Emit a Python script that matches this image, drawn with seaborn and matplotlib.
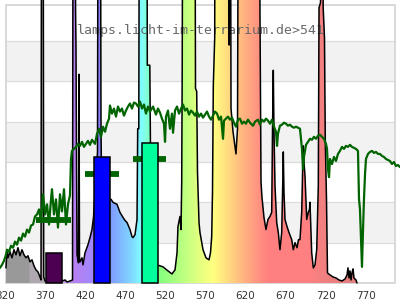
import numpy as np
import matplotlib
matplotlib.use("Agg")
import matplotlib.pyplot as plt
import seaborn as sns
from matplotlib.colors import LinearSegmentedColormap
from matplotlib.patches import Polygon, Rectangle

# ---------------- data ----------------
lamp_nm = [320.6, 321.9, 323.1, 324.4, 325.6, 328.1, 330.6, 333.1, 335.6, 338.1,
           340.6, 343.1, 345.6, 348.1, 350.6, 353.1, 355.6, 358.1, 360.6, 363.1,
           364.4, 365.0, 367.1, 367.8, 369.4, 375.6, 381.9, 388.1, 390.6, 394.4,
           396.9, 400.6, 403.75, 404.4, 406.9, 407.6, 408.1, 408.75, 409.4, 411.25,
           411.9, 412.5, 413.1, 415.6, 416.9, 419.4, 423.1, 425.6, 428.1, 430.0,
           435.0, 435.6, 438.75, 439.4, 440.0, 444.4, 450.6, 451.9, 454.4, 456.9,
           459.4, 463.1, 466.9, 469.4, 471.9, 475.6, 478.1, 479.4, 481.9, 484.4,
           485.25, 486.6, 487.25, 496.9, 497.25, 500.4, 501.25, 503.1, 509.4, 513.1,
           516.9, 523.1, 528.1, 531.9, 534.4, 535.6, 538.1, 539.4, 540.25, 540.9,
           541.5, 556.9, 557.5, 559.0, 560.0, 561.9, 563.1, 566.9, 570.6, 574.4,
           576.25, 577.75, 578.75, 579.75, 581.5, 581.9, 599.1, 599.6, 600.1, 601.25,
           601.9, 604.4, 608.1, 610.0, 611.0, 637.5, 638.1, 639.4, 640.6, 643.1,
           645.6, 648.1, 650.6, 652.75, 653.75, 654.75, 655.6, 656.9, 659.0, 661.0,
           663.1, 665.25, 666.6, 667.25, 668.1, 669.4, 671.9, 674.4, 677.75, 679.75,
           681.9, 684.4, 686.25, 688.1, 690.25, 691.6, 692.25, 693.1, 694.4, 696.5,
           698.5, 700.0, 700.6, 701.9, 702.75, 704.75, 706.9, 709.0, 711.0, 711.9,
           713.75, 714.6, 716.25, 717.1, 718.75, 719.75, 721.25, 722.5, 725.6, 729.4,
           733.1, 736.9, 740.6, 744.4, 746.9, 748.1, 749.4, 750.6, 751.9, 753.1,
           754.4, 755.6, 758.1, 759.4]
lamp_int = [15, 33, 25, 28, 31, 25, 33, 28, 35, 27,
            33, 28, 25, 27, 21, 23, 17, 13, 11, 6,
            3, 400, 400, 6, 2, 2, 1, 2, 2, 3,
            1, 2, 3, 400, 400, 271, 237, 130, 28, 20,
            207, 23, 21, 25, 18, 30, 38, 45, 53, 65,
            130, 400, 400, 150, 110, 85, 83, 83, 80, 79,
            78, 70, 65, 62, 60, 53, 46, 45, 48, 63,
            153, 153, 400, 400, 216, 216, 130, 50, 18, 17,
            16, 12, 9, 13, 30, 56, 66, 53, 100, 216,
            400, 400, 193, 190, 110, 60, 50, 33, 25, 23,
            30, 46, 90, 195, 243, 400, 400, 236, 400, 400,
            173, 150, 128, 153, 400, 400, 268, 100, 85, 65,
            53, 63, 66, 70, 150, 211, 150, 96, 60, 50,
            33, 50, 100, 130, 90, 63, 56, 50, 43, 33,
            40, 35, 43, 43, 70, 120, 136, 120, 106, 63,
            70, 73, 80, 50, 30, 15, 18, 33, 96, 273,
            278, 400, 400, 273, 243, 140, 83, 10, 8, 6,
            5, 3, 2, 4, 8, 15, 5, 12, 3, 10,
            14, 5, 3, 0]

sun_nm = [313.1, 315.6, 318.1, 320.6, 321.9, 324.4, 326.9, 329.4, 331.9, 334.4,
          336.9, 339.4, 341.9, 344.4, 346.9, 349.4, 351.9, 354.4, 356.9, 359.4,
          361.9, 364.4, 366.9, 369.4, 371.9, 374.4, 376.9, 378.1, 380.6, 383.1,
          385.6, 388.1, 390.6, 393.1, 395.6, 398.1, 400.6, 401.9, 403.1, 405.6,
          408.1, 410.6, 413.1, 415.6, 418.1, 420.6, 423.1, 425.6, 428.1, 431.9,
          434.4, 436.9, 439.4, 441.9, 444.4, 446.9, 449.4, 450.6, 453.1, 455.6,
          458.1, 460.6, 463.1, 465.6, 468.1, 470.6, 473.1, 475.6, 478.1, 480.6,
          483.1, 485.6, 488.1, 490.6, 493.1, 495.6, 498.1, 500.6, 504.4, 508.1,
          510.6, 513.1, 515.6, 518.1, 519.4, 520.6, 523.1, 525.6, 528.1, 529.4,
          531.9, 534.4, 536.9, 539.4, 541.9, 544.4, 546.9, 549.4, 551.9, 554.4,
          556.9, 559.4, 561.9, 564.4, 566.9, 569.4, 571.9, 574.4, 576.9, 579.4,
          581.9, 584.4, 586.9, 589.4, 591.9, 593.1, 595.6, 598.1, 600.6, 603.1,
          605.6, 608.1, 610.6, 613.1, 615.6, 618.1, 620.6, 623.1, 625.6, 629.4,
          631.9, 635.6, 638.1, 640.6, 643.1, 645.6, 648.1, 650.6, 653.1, 655.6,
          658.1, 659.4, 660.6, 663.1, 665.6, 668.1, 670.6, 673.1, 675.6, 678.1,
          680.6, 683.1, 685.6, 688.1, 689.4, 690.6, 691.9, 693.1, 695.6, 698.1,
          700.6, 703.1, 705.6, 708.1, 710.6, 713.1, 715.6, 718.1, 720.6, 721.9,
          723.1, 724.4, 725.6, 728.1, 730.6, 733.1, 735.6, 738.1, 740.6, 743.1,
          745.6, 748.1, 750.6, 753.1, 755.6, 758.1, 760.6, 761.9, 763.1, 764.4,
          765.6, 766.9, 768.1, 769.4, 770.6, 773.1, 775.6, 778.1, 780.6, 783.1,
          785.6, 788.1, 790.6, 793.1, 795.6, 798.1, 800.6, 803.1, 805.6, 808.1,
          810.6, 813.1]
sun_int = [15, 18, 22, 28, 33, 31, 37, 35, 41, 38,
           45, 42, 49, 46, 53, 50, 57, 58, 66, 68,
           73, 61, 88, 68, 78, 58, 83, 93, 68, 83,
           55, 88, 71, 93, 58, 78, 87, 123, 131, 133,
           135, 138, 136, 140, 135, 138, 141, 137, 142, 138,
           148, 153, 145, 155, 150, 158, 163, 176, 168, 173,
           165, 175, 170, 173, 166, 171, 175, 178, 173, 179,
           178, 175, 180, 173, 177, 168, 175, 170, 175, 167,
           173, 169, 163, 158, 140, 165, 171, 153, 168, 149,
           171, 175, 168, 173, 177, 171, 173, 167, 171, 169,
           166, 170, 165, 168, 164, 167, 170, 165, 162, 166,
           170, 168, 162, 165, 143, 161, 163, 165, 162, 164,
           159, 155, 162, 163, 158, 160, 158, 162, 159, 156,
           160, 162, 157, 162, 160, 163, 161, 158, 162, 155,
           150, 136, 148, 156, 157, 159, 158, 156, 157, 155,
           154, 155, 154, 153, 143, 133, 113, 125, 137, 140,
           143, 142, 145, 143, 146, 147, 145, 143, 138, 133,
           113, 105, 123, 118, 125, 121, 128, 131, 135, 133,
           136, 135, 137, 135, 134, 133, 131, 83, 73, 43,
           16, 53, 83, 108, 123, 128, 130, 131, 129, 130,
           128, 128, 126, 125, 123, 122, 121, 118, 120, 116,
           117, 115]

bar_names = ["UV", "blue", "green"]
bar_center_nm = [380, 440, 500]
bar_height = [30, 125, 139]
bar_colors = ["#4b0052", "#0000ff", "#00ff9c"]

marker_lo_nm = [358, 419, 479]
marker_hi_nm = [402, 462, 521]
marker_int = [62, 108, 123]

tick_nm = [320, 370, 420, 470, 520, 570, 620, 670, 720, 770]

grad_nm = [313, 348, 350, 378, 385, 405, 430, 440, 460, 480, 490, 500, 510,
           540, 560, 580, 600, 620, 640, 650, 700, 720, 760, 813]
grad_hex = ["#999999", "#999999", "#b0a8b0", "#b0a8b0", "#c8a0e0", "#b880f0",
            "#a088ff", "#8080ff", "#80b0ff", "#80e0ff", "#80ffff", "#80ffc0",
            "#80ff80", "#b8ff80", "#e0ff80", "#ffff80", "#ffd880", "#ffb080",
            "#ff8c80", "#ff8080", "#ff8080", "#f08080", "#e08080", "#e08080"]

assert len(lamp_nm) == len(lamp_int)
assert len(sun_nm) == len(sun_int)

# ---------------- figure ----------------
sns.set_style("white")
plt.rcParams["font.family"] = ["DejaVu Sans"]

X0, X1 = 313.125, 813.125
Y0, Y1 = -16.86, 280.66
FRAME_L, FRAME_R, FRAME_T = 320.0, 806.9, 275.7

fig = plt.figure(figsize=(4, 3), dpi=100)
ax = fig.add_axes([0, 0, 1, 1])

# background bands, grid, frame
for lo in [40, 120, 200]:
    ax.fill_between([FRAME_L, FRAME_R], lo, lo + 40, color="#f2f2f2", lw=0, zorder=0)
for g in [40, 80, 120, 160, 200, 240]:
    ax.plot([FRAME_L, FRAME_R], [g, g], color="#dcdcdc", lw=0.9, zorder=0.5)
ax.add_patch(Rectangle((FRAME_L, 0), FRAME_R - FRAME_L, FRAME_T, fill=False,
                       ec="#d6d6d6", lw=1.3, zorder=0.6))

# gradient fill under lamp spectrum
lo_n, hi_n = grad_nm[0], grad_nm[-1]
cmap = LinearSegmentedColormap.from_list(
    "spec", [((w - lo_n) / (hi_n - lo_n), c) for w, c in zip(grad_nm, grad_hex)])
wl = np.linspace(X0, X1, 1200)
rgb = cmap(np.clip((wl - lo_n) / (hi_n - lo_n), 0, 1))[None, :, :]
im = ax.imshow(rgb, extent=[X0, X1, -20, 500], aspect="auto", origin="lower",
               interpolation="bilinear", zorder=2)
verts = [(lamp_nm[0], 0)] + list(zip(lamp_nm, lamp_int)) + [(lamp_nm[-1], 0)]
poly = Polygon(verts, closed=True, fc="none", ec="none")
ax.add_patch(poly)
im.set_clip_path(poly)

# watermark text
ax.text(564.4, 247, "lamps.licht-im-terrarium.de>541", family="DejaVu Sans Mono",
        fontsize=9.5, color="#6a6a6a", ha="center", va="baseline", zorder=3)

# lamp outline
sns.lineplot(x=lamp_nm, y=lamp_int, color="black", linewidth=1.1, sort=False,
             estimator=None, ax=ax, zorder=4)

# sun markers
ax.hlines(marker_int, marker_lo_nm, marker_hi_nm, colors="#006400", lw=4.2,
          capstyle="butt", zorder=5)

# bars
sns.barplot(x=bar_center_nm, y=bar_height, hue=bar_names,
            palette=dict(zip(bar_names, bar_colors)), native_scale=True,
            width=20 / 60, dodge=False, saturation=1, errorbar=None,
            edgecolor="black", linewidth=1.1, legend=False, ax=ax, zorder=6)

# sun spectrum
sns.lineplot(x=sun_nm, y=sun_int, color="#006400", linewidth=1.6, sort=False,
             estimator=None, ax=ax, zorder=7)

# tick labels (inside the figure, at the bottom)
for t in tick_nm:
    ax.text(t, -15.9, str(t), ha="center", va="baseline", fontsize=7.5,
            color="#333333", zorder=8)

ax.set_xlim(X0, X1)
ax.set_ylim(Y0, Y1)
ax.axis("off")

fig.savefig("out.png", dpi=100)
